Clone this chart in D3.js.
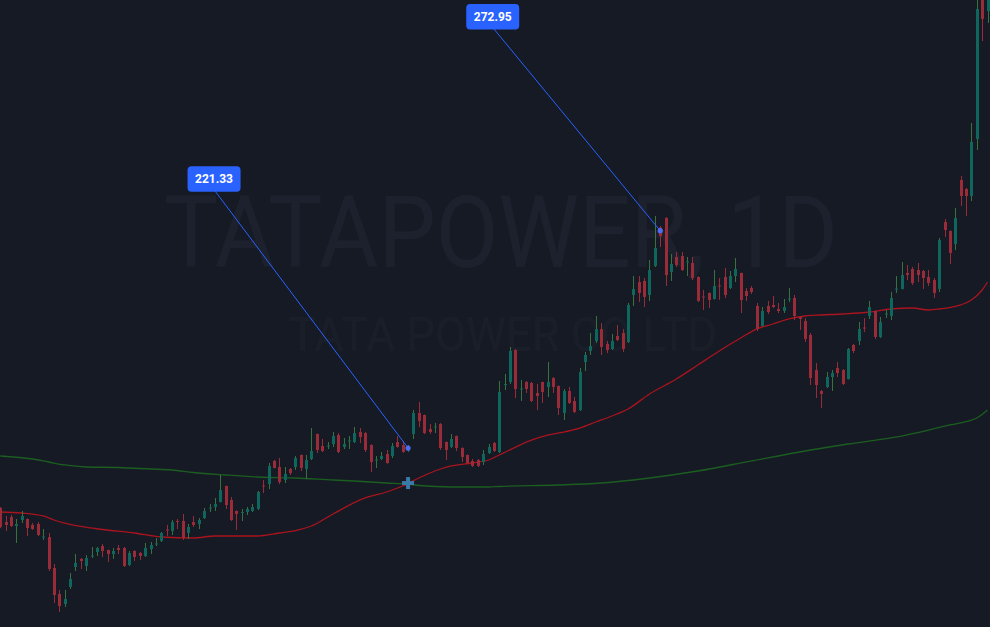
<!DOCTYPE html>
<html><head><meta charset="utf-8">
<script src="https://cdn.jsdelivr.net/npm/d3@7"></script>
<style>html,body{margin:0;padding:0;background:#161a25;overflow:hidden}svg{display:block}</style>
</head><body><svg id="chart" width="990" height="627"></svg>
<script>
// ---- DATA ----
const opens=[207.1,203.75,204.94,202.80,204.23,204.47,203.04,203.28,200.07,200.19,192.83,186.65,184.27,188.31,193.06,194.97,193.30,195.56,196.63,198.05,197.10,196.15,197.58,197.58,193.54,196.87,196.39,195.68,197.34,198.41,199.24,201.97,201.62,203.99,203.99,201.14,203.75,203.28,204.70,206.96,207.32,208.51,212.31,208.98,206.37,205.90,206.13,206.37,206.85,212.42,212.78,218.25,216.82,213.73,216.35,216.82,219.67,216.35,218.72,224.66,221.81,221.69,222.28,224.42,221.57,222.88,222.76,225.13,224.89,222.05,218.36,218.72,219.91,219.43,222.76,222.05,220.62,224.66,229.65,229.17,225.85,226.21,227.04,222.76,221.57,224.18,221.33,219.67,218.25,218.48,218.01,220.14,222.52,220.38,236.30,237.01,244.61,235.23,237.01,236.78,234.40,237.01,235.82,237.96,236.06,229.65,234.88,232.50,230.36,241.76,244.38,246.75,249.60,246.04,244.85,247.94,248.65,246.51,257.68,260.77,261.01,257.68,264.57,273.72,275.97,263.14,266.71,266.95,265.40,265.28,261.96,257.32,258.16,256.73,259.94,261.96,259.34,262.19,262.91,258.63,259.34,255.07,250.32,255.07,255.31,254.35,253.88,256.61,256.97,252.45,251.50,248.18,239.86,234.88,235.82,238.20,240.34,239.86,237.72,245.80,246.75,249.96,252.69,253.88,247.70,253.05,252.69,258.99,259.11,262.91,263.86,263.62,263.38,261.96,261.24,259.11,275.02,272.88,269.80,285.0,282.86,281.20,294.74,329.5,325.15];
const highs=[207.3,205.18,205.42,204.47,206.37,204.6,203.51,203.75,202.09,201.14,193.78,187.60,187.60,191.64,196.16,195.20,195.92,197.82,197.82,198.53,197.2,197.58,198.29,197.82,196.87,197.0,196.63,198.77,199.0,199.96,201.38,203.04,204.23,204.47,205.66,203.28,205.18,204.70,207.08,208.03,209.46,214.92,212.4,209.69,206.5,206.85,207.32,208.03,211.12,213.73,217.77,218.48,218.96,216.82,216.58,219.43,219.8,219.67,226.09,224.8,223.47,222.76,225.13,224.89,223.71,224.18,226.32,226.09,225.13,222.2,219.43,220.38,220.86,222.52,224.18,223.0,222.05,230.36,232.26,229.3,227.04,227.28,227.28,222.9,224.66,224.3,221.5,219.8,218.72,218.72,220.86,222.28,222.76,237.25,238.91,245.33,244.8,237.49,237.25,237.01,236.54,237.1,241.76,238.20,236.2,235.35,235.82,233.45,240.34,244.14,248.65,252.69,251.03,246.75,248.42,250.55,249.60,255.78,262.19,262.19,261.72,266.00,276.45,274.07,276.2,267.42,267.90,267.90,266.71,266.71,262.1,258.87,258.3,263.62,261.72,264.09,263.38,266.47,263.0,259.34,259.82,255.78,254.83,256.26,257.44,255.78,256.73,259.34,257.68,252.69,252.21,248.65,241.52,235.11,239.39,239.86,241.76,240.10,245.09,246.04,251.26,252.21,256.26,254.0,252.45,254.12,258.39,262.19,265.52,264.81,264.33,265.28,263.62,263.62,261.72,271.22,275.73,273.0,278.35,285.95,283.10,298.54,331.0,331.0,331.0];
const lows=[202.3,201.62,202.57,198.77,203.51,200.43,201.85,200.43,199.48,192.11,184.51,182.37,183.56,187.84,192.11,192.59,192.11,195.20,195.68,195.44,194.25,194.97,196.15,193.06,193.30,194.49,194.73,195.44,196.15,198.05,199.0,200.43,200.67,202.09,199.48,199.72,202.57,202.09,204.47,206.13,206.37,208.4,206.85,203.99,201.85,203.99,205.42,206.13,206.61,210.64,211.59,216.5,212.78,213.02,214.92,216.11,215.87,213.97,218.48,220.14,220.38,221.10,221.57,220.14,221.10,221.10,222.52,222.52,220.38,215.63,216.58,218.48,217.6,218.96,221.4,220.2,220.38,223.47,226.32,224.66,224.66,224.89,220.86,218.48,221.33,220.62,218.01,217.6,216.82,216.82,217.30,219.91,220.38,220.14,235.11,236.54,233.21,232.50,234.40,232.26,230.36,232.03,233.45,234.40,229.17,227.99,231.79,229.65,230.12,239.62,243.43,246.28,243.43,243.90,244.61,246.75,244.14,246.28,255.07,256.02,254.83,256.26,264.33,269.08,259.82,261.01,264.33,263.38,262.19,261.24,256.02,254.12,254.59,256.6,256.49,256.97,259.11,260.77,253.40,256.26,257.92,249.13,250.2,253.17,254.59,253.40,253.40,256.02,251.74,249.37,246.51,236.30,233.21,230.84,235.58,234.88,238.20,236.30,237.6,243.90,245.80,248.89,251.98,247.23,247.47,252.21,251.74,258.16,259.0,261.24,260.06,260.77,259.11,259.82,256.97,258.39,271.46,265.04,268.37,278.82,276.45,280.01,292.13,318.02,322.3];
const closes=[202.6,203.04,202.80,203.28,205.18,202.33,202.09,200.67,200.31,192.59,186.41,183.80,185.46,190.21,194.02,194.49,195.20,195.80,197.58,196.87,196.15,196.87,197.10,193.30,196.39,195.44,195.68,197.58,198.29,198.65,201.14,201.73,203.75,203.75,199.96,202.57,203.04,204.23,206.37,207.20,208.03,211.36,207.79,204.23,205.66,206.13,206.85,207.32,210.88,212.19,217.06,216.58,213.26,215.16,215.39,218.96,216.58,218.48,220.62,220.86,220.62,221.93,224.18,220.38,222.28,223.12,224.89,223.95,220.86,218.01,218.60,219.43,217.77,221.81,221.57,220.38,221.33,229.65,227.75,224.89,225.13,226.44,221.33,220.86,223.47,221.33,219.20,217.77,217.06,217.06,219.91,221.57,220.62,234.64,236.54,244.38,235.35,235.47,235.35,232.50,233.69,234.64,237.01,235.82,230.84,234.88,232.03,229.89,239.39,243.43,245.57,249.60,245.33,244.61,246.75,246.99,244.85,255.31,259.11,258.16,257.21,263.62,268.85,271.70,262.43,265.04,264.81,263.62,265.64,261.72,256.26,257.09,256.49,259.82,259.70,257.68,262.19,263.86,256.49,257.44,258.39,249.60,253.88,253.64,254.83,253.88,254.83,256.85,252.69,251.98,247.23,237.96,236.30,234.16,238.20,239.15,239.15,236.54,244.85,244.38,249.60,249.72,254.83,247.70,251.26,253.29,256.97,259.23,262.43,262.43,260.53,262.43,261.72,260.53,258.16,270.75,273.12,267.66,275.97,281.2,281.20,294.03,325.62,323.25,329.0];

// moving averages (candle index, price)
const maFastIdx=[0,4,8,10,12,15,19,25,30,36,40,48,52,55,58,62,68,72,75,78,81,84,88,91,93,99,102,105,108,111,114,117,121,126,130,134,138,141,144,147,150,153,157,162,166,170,173,175,179,181,183,184];
const maFastVal=[206.13,205.89,205.18,204.23,203.51,202.69,201.97,201.14,200.19,199.95,200.43,200.43,201.14,201.73,202.80,205.66,209.46,210.88,212.31,214.21,215.87,217.06,217.77,218.48,219.67,223.23,224.42,225.13,226.08,227.51,228.93,230.60,234.16,237.72,241.05,244.39,247.47,249.62,250.79,251.98,252.69,252.93,253.17,253.64,254.35,254.59,254.12,254.35,255.31,256.49,258.87,260.77];
const maSlowIdx=[0,6,9,12,16,22,28,32,36,42,48,55,62,66,72,76,78,84,91,93,104,112,121,130,140,149,158,168,177,182,184];
const maSlowVal=[219.43,218.72,218.01,217.30,216.82,216.70,216.35,216.11,215.51,214.92,214.44,214.21,213.73,213.49,213.02,212.78,212.42,212.07,212.07,212.19,212.54,213.02,214.21,215.87,218.25,220.38,222.28,224.18,226.80,228.46,230.36];

const noteIdx=[76,123];
const notePrice=[221.33,272.95];
const noteText=["221.33","272.95"];
const crossIdx=76, crossPrice=213.0;
const wmTitle="TATAPOWER, 1D", wmSub="TATA POWER CO LTD";
const priceMin=178.81, priceMax=327.76;

// ---- LAYOUT / STYLE ----
const W=990,H=627;
const noteOffset=[[-194,-269],[-167.5,-214]];
const svg=d3.select("#chart");
svg.append("rect").attr("width",W).attr("height",H).attr("fill","#161a25");

const x=d3.scaleLinear().domain([0,opens.length-1]).range([0.3,987.5]);
const y=d3.scaleLinear().domain([priceMin,priceMax]).range([H,0]);

// watermark
const wm=svg.append("g").attr("fill","rgba(178,181,190,0.05)").style("font-family","Roboto, 'Noto Sans', sans-serif");
wm.append("text").attr("x",164).attr("y",267).attr("font-size",101)
  .attr("textLength",674).attr("lengthAdjust","spacingAndGlyphs").text(wmTitle);
wm.append("text").attr("x",289).attr("y",351).attr("font-size",48)
  .attr("textLength",428).attr("lengthAdjust","spacingAndGlyphs").text(wmSub);

// moving averages
const lineGen=d3.line().x(d=>x(d[0])).y(d=>y(d[1])).curve(d3.curveMonotoneX);
svg.append("path").datum(maSlowIdx.map((d,i)=>[d,maSlowVal[i]]))
  .attr("d",lineGen).attr("fill","none").attr("stroke","#1b5e20").attr("stroke-width",1.3);
svg.append("path").datum(maFastIdx.map((d,i)=>[d,maFastVal[i]]))
  .attr("d",lineGen).attr("fill","none").attr("stroke","#a9141e").attr("stroke-width",1.3);

// candles
const candles=opens.map((o,i)=>({i,o,h:highs[i],l:lows[i],c:closes[i]}));
const upBody="#0e665c",downBody="#9a2b38",upWick="#36733f",downWick="#9a2b38";
const g=svg.append("g");
g.selectAll("line.wick").data(candles).join("line")
  .attr("x1",d=>Math.round(x(d.i))+0.5).attr("x2",d=>Math.round(x(d.i))+0.5)
  .attr("y1",d=>y(d.h)).attr("y2",d=>y(d.l))
  .attr("stroke",d=>d.c>=d.o?upWick:downWick).attr("stroke-width",1);
g.selectAll("rect.body").data(candles).join("rect")
  .attr("x",d=>Math.round(x(d.i))-1).attr("width",3)
  .attr("y",d=>y(Math.max(d.o,d.c)))
  .attr("height",d=>Math.max(1,Math.abs(y(d.o)-y(d.c))))
  .attr("fill",d=>d.c>=d.o?upBody:downBody);

// cross marker
const cx=x(crossIdx), cy=y(crossPrice);
svg.append("rect").attr("x",cx-6).attr("y",cy-2).attr("width",12).attr("height",4).attr("fill","#3b7aa6");
svg.append("rect").attr("x",cx-2).attr("y",cy-6).attr("width",4).attr("height",12).attr("fill","#3b7aa6");

// price notes
noteIdx.forEach((ni,k)=>{
  const px=x(ni), py=y(notePrice[k]);
  const bx=px+noteOffset[k][0], by=py+noteOffset[k][1];
  svg.append("line").attr("x1",bx+1).attr("y1",by+12).attr("x2",px).attr("y2",py)
    .attr("stroke","#2962ff").attr("stroke-width",1);
  svg.append("circle").attr("cx",px).attr("cy",py).attr("r",2.6).attr("fill","#4f6cf0");
  svg.append("rect").attr("x",bx-26.5).attr("y",by-12.8).attr("width",53).attr("height",25.6)
    .attr("rx",4).attr("fill","#2962ff");
  svg.append("text").attr("x",bx).attr("y",by+4.3).attr("text-anchor","middle")
    .attr("fill","#ffffff").attr("font-size",12).attr("font-weight","bold")
    .style("font-family","Roboto, 'Open Sans', sans-serif").text(noteText[k]);
});
</script></body></html>
